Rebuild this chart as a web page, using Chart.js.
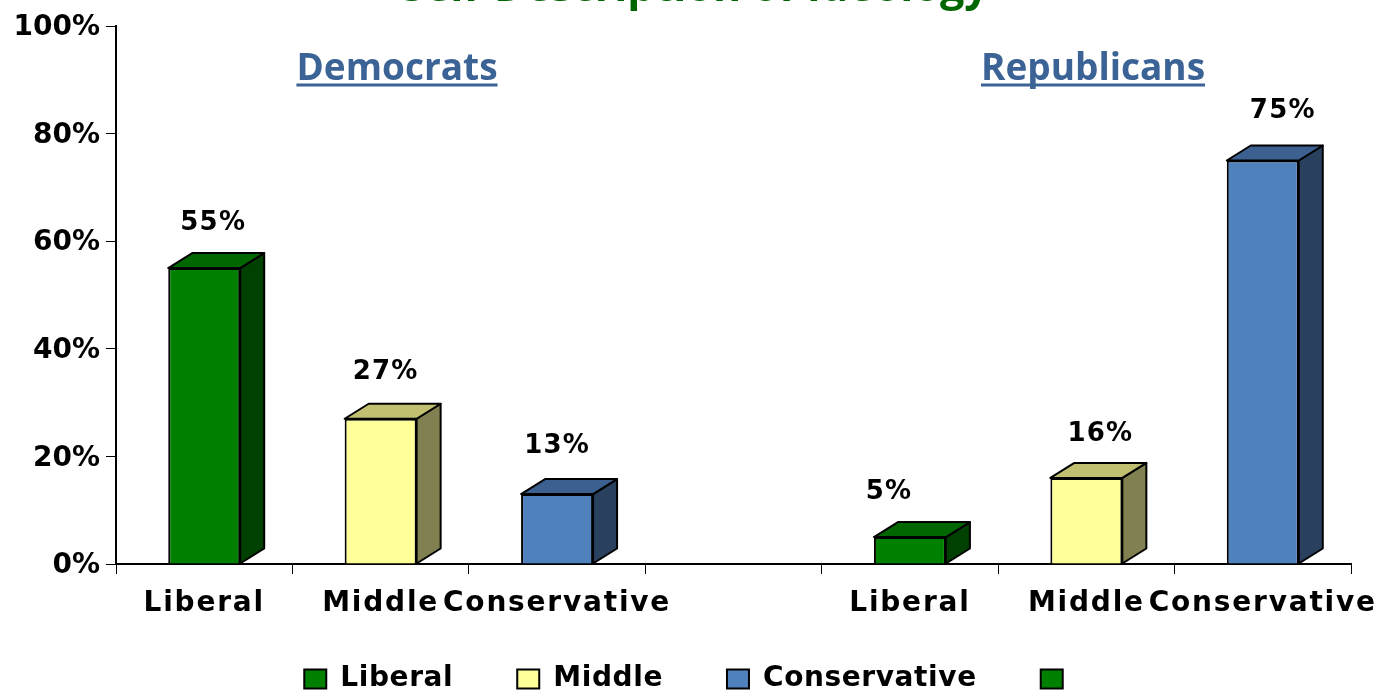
<!DOCTYPE html>
<html>
<head>
<meta charset="utf-8">
<style>
  html, body { margin: 0; padding: 0; background: #fff; }
  #wrap { width: 1382px; height: 692px; }
</style>
<script src="https://cdn.jsdelivr.net/npm/chart.js@4"></script>
</head>
<body>
<div id="wrap"><canvas id="chart" width="1382" height="692"></canvas></div>
<script>
const categories = ['Liberal', 'Middle', 'Conservative', '', 'Liberal', 'Middle', 'Conservative'];
const values = [55, 27, 13, null, 5, 16, 75];
const yTicks = [0, 20, 40, 60, 80, 100];
const legendLabels = ['Liberal', 'Middle', 'Conservative', ''];
const groupHeadings = ['Democrats', 'Republicans'];
const titleText = 'Self-Description of Ideology';

const GREEN = '#008000', YELLOW = '#ffff99', BLUE = '#4f81bd';
const barColors = [GREEN, YELLOW, BLUE, GREEN, GREEN, YELLOW, BLUE];
const sideColors = ['#004000', '#808050', '#2a405f', '#004000', '#004000', '#808050', '#2a405f'];
const topColors = ['#006600', '#c0c070', '#3c6190', '#006600', '#006600', '#c0c070', '#3c6190'];
const legendColors = [GREEN, YELLOW, BLUE, GREEN];

const FONT = '"DejaVu Sans"';
const DEPTH_X = 24, DEPTH_Y = 15;
// value labels were placed by hand in the original, so each has its own shift
const labelShiftX = [9, 5, 0, 0, -21, 14, 20];
const labelShiftY = [-45, -46, -48, 0, -45, -44, -49];

// canvas letter spacing is not a Chart.js option, so wrap the label drawing.
// the axis box is also opened up so labels are not clipped to its short height
function spaceLabels(axis, spacing, dy) {
    if (axis.spacedLabels) return;
    axis.spacedLabels = true;
    const draw = axis.drawLabels;
    axis.drawLabels = function (area) {
        const c = this.ctx;
        const old = c.letterSpacing;
        const bottom = this.bottom;
        c.letterSpacing = spacing;
        this.bottom = this.chart.height;
        c.save();
        c.translate(0, dy);
        draw.call(this, area);
        c.restore();
        this.bottom = bottom;
        c.letterSpacing = old;
    };
}

// the bars only get a flat face from Chart.js, the depth is added here
const depthPlugin = {
    id: 'depth',
    beforeUpdate(chart) {
        // picked up by the legend when it measures and draws
        chart.ctx.letterSpacing = '0.6px';
    },
    afterLayout(chart) {
        // legend is centred on the plot in the original, not on the page
        chart.legend.left += 15;
        chart.legend.right += 15;
    },
    beforeDraw(chart) {
        spaceLabels(chart.scales.x, '1.8px', 0);
        spaceLabels(chart.scales.y, '0px', 2);
    },
    beforeDatasetsDraw(chart) {
        const ctx = chart.ctx;
        chart.getDatasetMeta(0).data.forEach((bar, i) => {
            if (values[i] === null) return;
            const half = bar.width / 2;
            const l = bar.x - half, r = bar.x + half;
            const t = bar.y, b = bar.base;
            ctx.save();
            ctx.strokeStyle = '#000';
            ctx.lineWidth = 2;
            ctx.lineJoin = 'round';
            ctx.fillStyle = sideColors[i];
            ctx.beginPath();
            ctx.moveTo(r, t);
            ctx.lineTo(r + DEPTH_X, t - DEPTH_Y);
            ctx.lineTo(r + DEPTH_X, b - DEPTH_Y);
            ctx.lineTo(r, b);
            ctx.closePath();
            ctx.fill();
            ctx.stroke();
            ctx.fillStyle = topColors[i];
            ctx.beginPath();
            ctx.moveTo(l, t);
            ctx.lineTo(l + DEPTH_X, t - DEPTH_Y);
            ctx.lineTo(r + DEPTH_X, t - DEPTH_Y);
            ctx.lineTo(r, t);
            ctx.closePath();
            ctx.fill();
            ctx.stroke();
            ctx.restore();
        });
    },
    afterDatasetsDraw(chart) {
        const ctx = chart.ctx;
        const { x: xScale, y: yScale } = chart.scales;
        ctx.save();
        ctx.letterSpacing = '1.2px';
        ctx.font = 'bold 26px ' + FONT;
        ctx.fillStyle = '#000';
        ctx.textAlign = 'center';
        ctx.textBaseline = 'middle';
        values.forEach((v, i) => {
            if (v === null) return;
            ctx.fillText(v + '%', xScale.getPixelForValue(i) + labelShiftX[i], yScale.getPixelForValue(v) + labelShiftY[i]);
        });
        ctx.restore();

        // group headings
        ctx.save();
        ctx.letterSpacing = '0px';
        ctx.font = 'bold 37px "Open Sans"';
        ctx.fillStyle = '#3b6395';
        ctx.strokeStyle = '#3b6395';
        ctx.lineWidth = 3;
        ctx.textAlign = 'center';
        ctx.textBaseline = 'alphabetic';
        [[397, groupHeadings[0]], [1093, groupHeadings[1]]].forEach(([x, label]) => {
            ctx.fillText(label, x, 80);
            const w = ctx.measureText(label).width;
            ctx.beginPath();
            ctx.moveTo(x - w / 2, 85);
            ctx.lineTo(x + w / 2, 85);
            ctx.stroke();
        });
        ctx.restore();

        // title, cut off by the top of the picture in the original
        ctx.save();
        ctx.letterSpacing = '0px';
        ctx.font = 'bold 43px "Open Sans"';
        ctx.fillStyle = '#006600';
        ctx.textAlign = 'center';
        ctx.textBaseline = 'alphabetic';
        ctx.fillText(titleText, 695, 1);
        ctx.restore();
    }
};

const ctx = document.getElementById('chart').getContext('2d');

new Chart(ctx, {
    type: 'bar',
    data: {
        labels: categories,
        datasets: [{
            data: values,
            backgroundColor: barColors,
            borderColor: '#000',
            borderWidth: 2,
            barPercentage: 0.408,
            categoryPercentage: 1
        }]
    },
    options: {
        responsive: false,
        animation: false,
        layout: { padding: { top: 26, bottom: -11, left: 0, right: 31 } },
        plugins: {
            tooltip: { enabled: false },
            title: { display: false },
            legend: {
                display: true,
                position: 'bottom',
                labels: {
                    boxWidth: 22,
                    boxHeight: 19,
                    padding: 64,
                    color: '#000',
                    font: { family: FONT, size: 28, weight: 'bold' },
                    generateLabels: () => legendLabels.map((text, i) => ({
                        text,
                        fillStyle: legendColors[i],
                        strokeStyle: '#000',
                        lineWidth: 2,
                        hidden: false,
                        index: i
                    }))
                }
            }
        },
        scales: {
            x: {
                // labels overhang the axis box on purpose, the legend sits close below
                afterFit(axis) {
                    axis.height = 37;
                    axis.paddingRight = 0;
                    axis.paddingLeft = 0;
                },
                grid: { drawOnChartArea: false, drawTicks: true, tickLength: 10, color: '#000', offset: true },
                border: { color: '#000', width: 2 },
                ticks: {
                    color: '#000',
                    autoSkip: false,
                    maxRotation: 0,
                    padding: 13,
                    font: { family: FONT, size: 28, weight: 'bold' }
                }
            },
            y: {
                min: 0,
                max: 100,
                afterBuildTicks(axis) { axis.ticks = yTicks.map(value => ({ value })); },
                afterFit(axis) { axis.width = 116; },
                grid: { drawOnChartArea: false, drawTicks: true, tickLength: 10, color: '#000' },
                border: { color: '#000', width: 2 },
                ticks: {
                    color: '#000',
                    padding: 6,
                    callback: value => value + '%',
                    font: { family: FONT, size: 28, weight: 'bold' }
                }
            }
        }
    },
    plugins: [depthPlugin]
});
</script>
</body>
</html>
